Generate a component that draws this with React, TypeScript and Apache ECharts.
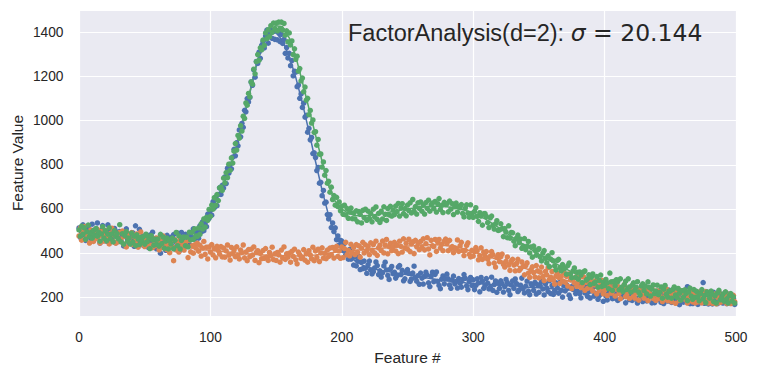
import React, { useEffect, useRef } from "react";
import * as echarts from "echarts";

// Noisy observations, feature index = position in array (0..499)
const blueY = [
  514, 471, 500, 528, 484, 458, 505, 518, 490, 466,
  531, 482, 505, 470, 537, 487, 446, 502, 525, 474,
  488, 454, 528, 472, 502, 460, 484, 512, 447, 496,
  467, 498, 455, 481, 433, 492, 510, 460, 447, 478,
  455, 492, 431, 524, 467, 443, 508, 449, 475, 435,
  478, 442, 463, 425, 482, 454, 495, 437, 466, 420,
  465, 444, 400, 477, 427, 459, 413, 481, 439, 453,
  472, 431, 484, 420, 449, 491, 439, 414, 494, 461,
  432, 485, 446, 470, 439, 489, 470, 510, 464, 494,
  497, 468, 523, 496, 542, 502, 537, 520, 577, 558,
  593, 572, 633, 606, 654, 615, 666, 696, 666, 707,
  695, 745, 715, 785, 762, 803, 782, 835, 870, 841,
  900, 886, 958, 927, 988, 970, 1047, 1040, 1100, 1085,
  1105, 1175, 1160, 1230, 1197, 1268, 1259, 1310, 1282, 1341,
  1357, 1329, 1383, 1410, 1351, 1395, 1410, 1373, 1405, 1368,
  1408, 1366, 1399, 1358, 1391, 1350, 1368, 1305, 1331, 1284,
  1305, 1249, 1272, 1203, 1224, 1220, 1154, 1161, 1101, 1121,
  1060, 1079, 1016, 1024, 948, 965, 913, 924, 851, 854,
  833, 774, 788, 717, 721, 660, 684, 627, 631, 575,
  555, 574, 516, 537, 498, 515, 461, 478, 437, 458,
  455, 412, 444, 393, 411, 373, 417, 373, 392, 346,
  383, 342, 364, 385, 326, 360, 330, 364, 332, 309,
  347, 364, 324, 306, 316, 333, 360, 344, 303, 320,
  292, 311, 342, 359, 324, 299, 281, 329, 340, 307,
  314, 287, 298, 337, 344, 303, 322, 275, 284, 313,
  326, 309, 272, 283, 310, 341, 290, 273, 298, 259,
  310, 287, 260, 295, 314, 301, 266, 249, 295, 314,
  271, 304, 315, 272, 254, 239, 282, 297, 261, 284,
  305, 284, 256, 241, 278, 296, 261, 272, 242, 285,
  264, 246, 281, 303, 286, 252, 235, 273, 290, 254,
  279, 235, 254, 284, 265, 225, 290, 272, 241, 253,
  285, 264, 238, 245, 291, 231, 258, 274, 223, 265,
  241, 275, 262, 224, 248, 281, 267, 231, 212, 256,
  274, 241, 283, 262, 226, 234, 255, 287, 240, 220,
  251, 273, 228, 212, 261, 253, 232, 268, 215, 257,
  223, 253, 272, 238, 211, 261, 242, 226, 275, 217,
  253, 213, 230, 266, 243, 219, 268, 232, 201, 253,
  229, 257, 242, 210, 195, 249, 236, 262, 217, 229,
  258, 217, 198, 238, 247, 220, 261, 204, 226, 197,
  230, 245, 205, 218, 249, 191, 208, 235, 229, 182,
  235, 206, 188, 225, 247, 208, 194, 237, 197, 216,
  186, 224, 239, 199, 206, 230, 175, 215, 224, 190,
  216, 186, 209, 231, 193, 174, 220, 238, 197, 181,
  227, 205, 184, 194, 232, 213, 175, 207, 176, 216,
  190, 228, 207, 177, 217, 172, 202, 222, 183, 233,
  203, 177, 218, 232, 184, 191, 209, 167, 224, 186,
  178, 212, 198, 248, 219, 171, 203, 172, 194, 212,
  204, 168, 220, 184, 207, 267, 173, 221, 186, 170,
  212, 194, 170, 223, 177, 197, 172, 204, 182, 214,
  174, 208, 194, 172, 215, 179, 201, 175, 196, 168,
];

const orangeY = [
  478, 514, 459, 495, 521, 465, 486, 482, 446, 505,
  492, 453, 499, 466, 508, 475, 446, 498, 482, 454,
  503, 463, 481, 442, 490, 513, 453, 482, 445, 483,
  452, 494, 464, 500, 441, 479, 428, 485, 466, 450,
  493, 440, 476, 453, 487, 427, 467, 496, 441, 457,
  430, 472, 442, 470, 436, 471, 425, 456, 434, 469,
  454, 415, 465, 428, 478, 433, 458, 416, 437, 402,
  456, 428, 366, 461, 415, 444, 405, 461, 427, 444,
  414, 449, 431, 380, 458, 406, 433, 400, 438, 423,
  445, 409, 436, 387, 423, 453, 395, 427, 374, 428,
  405, 439, 392, 421, 379, 431, 412, 396, 430, 383,
  423, 382, 410, 437, 391, 369, 426, 398, 414, 384,
  429, 390, 374, 414, 402, 437, 379, 405, 366, 416,
  384, 418, 391, 428, 367, 404, 411, 357, 399, 375,
  412, 377, 421, 383, 367, 403, 388, 427, 371, 397,
  367, 403, 392, 359, 414, 378, 428, 372, 397, 382,
  400, 359, 408, 385, 418, 370, 352, 405, 393, 376,
  382, 416, 368, 398, 359, 411, 392, 375, 427, 366,
  410, 381, 418, 362, 401, 424, 378, 399, 375, 414,
  385, 423, 393, 426, 378, 415, 431, 386, 410, 377,
  428, 380, 421, 449, 393, 413, 388, 440, 403, 426,
  393, 439, 404, 433, 382, 423, 449, 401, 438, 411,
  430, 393, 447, 413, 439, 401, 454, 390, 424, 436,
  412, 455, 401, 437, 462, 397, 430, 445, 411, 429,
  449, 410, 436, 398, 454, 431, 405, 465, 423, 445,
  418, 463, 407, 443, 451, 398, 458, 429, 447, 416,
  453, 427, 465, 415, 443, 470, 419, 392, 458, 434,
  430, 462, 408, 450, 462, 423, 440, 411, 455, 464,
  444, 411, 458, 421, 430, 402, 424, 421, 460, 408,
  433, 449, 411, 389, 413, 435, 447, 395, 383, 413,
  387, 407, 425, 411, 370, 388, 424, 372, 405, 387,
  407, 373, 353, 387, 407, 393, 355, 337, 381, 393,
  362, 384, 396, 349, 337, 363, 383, 346, 322, 364,
  372, 346, 320, 354, 372, 322, 330, 360, 340, 302,
  344, 356, 310, 290, 326, 338, 312, 292, 344, 320,
  288, 314, 337, 293, 276, 318, 302, 335, 281, 291,
  317, 278, 260, 297, 308, 290, 263, 296, 274, 311,
  268, 295, 251, 306, 279, 240, 284, 265, 292, 250,
  269, 290, 244, 255, 293, 232, 268, 241, 273, 244,
  266, 229, 256, 275, 216, 246, 231, 266, 277, 216,
  232, 257, 208, 247, 264, 219, 230, 249, 206, 237,
  250, 217, 194, 232, 241, 258, 203, 215, 234, 195,
  230, 247, 205, 196, 220, 237, 187, 230, 210, 239,
  196, 220, 237, 185, 224, 208, 241, 195, 212, 186,
  229, 195, 212, 234, 181, 199, 222, 238, 185, 213,
  201, 180, 222, 211, 173, 225, 214, 186, 230, 192,
  216, 231, 189, 174, 206, 196, 223, 179, 209, 175,
  207, 180, 224, 202, 175, 213, 191, 226, 182, 174,
  220, 188, 173, 207, 215, 170, 200, 222, 177, 195,
  181, 209, 222, 172, 190, 214, 172, 199, 209, 181,
];

const greenY = [
  505, 477, 522, 486, 515, 463, 497, 527, 476, 493,
  468, 503, 482, 512, 477, 495, 454, 487, 520, 468,
  501, 456, 486, 515, 466, 487, 451, 502, 475, 488,
  465, 529, 451, 488, 441, 479, 498, 454, 468, 441,
  491, 450, 477, 434, 483, 464, 439, 471, 455, 475,
  441, 486, 452, 472, 421, 479, 460, 436, 463, 441,
  464, 432, 485, 443, 473, 422, 454, 468, 419, 458,
  442, 468, 420, 458, 494, 434, 478, 419, 458, 471,
  473, 434, 473, 428, 495, 460, 494, 463, 510, 478,
  476, 514, 485, 533, 509, 555, 518, 562, 549, 598,
  567, 618, 599, 651, 616, 665, 638, 696, 699, 684,
  740, 718, 765, 742, 803, 775, 831, 808, 862, 896,
  867, 933, 921, 977, 953, 1020, 1010, 1080, 1070, 1123,
  1108, 1175, 1165, 1233, 1212, 1267, 1299, 1273, 1330, 1321,
  1365, 1341, 1397, 1371, 1412, 1380, 1430, 1400, 1442, 1417,
  1442, 1407, 1446, 1417, 1446, 1410, 1440, 1387, 1407, 1357,
  1397, 1343, 1361, 1299, 1325, 1278, 1292, 1224, 1236, 1180,
  1193, 1131, 1152, 1093, 1101, 1027, 1046, 989, 1003, 947,
  950, 889, 915, 848, 849, 790, 813, 753, 774, 717,
  725, 676, 699, 643, 661, 617, 653, 611, 632, 592,
  612, 576, 617, 573, 602, 558, 586, 604, 556, 582,
  555, 592, 542, 588, 576, 537, 594, 561, 599, 549,
  590, 557, 580, 542, 599, 564, 609, 553, 580, 539,
  590, 555, 610, 576, 548, 602, 573, 612, 568, 595,
  574, 613, 588, 625, 568, 605, 624, 579, 602, 569,
  618, 593, 628, 582, 643, 590, 611, 577, 628, 603,
  632, 590, 618, 577, 629, 603, 640, 590, 619, 627,
  602, 634, 586, 624, 647, 598, 616, 584, 630, 620,
  624, 587, 636, 599, 624, 575, 610, 627, 586, 611,
  606, 620, 580, 564, 604, 619, 581, 563, 619, 580,
  562, 589, 606, 567, 544, 583, 568, 527, 578, 579,
  566, 538, 516, 560, 568, 526, 509, 533, 547, 503,
  505, 533, 511, 475, 511, 495, 470, 524, 468, 494,
  492, 454, 434, 468, 482, 448, 464, 422, 432, 466,
  416, 432, 453, 401, 428, 382, 432, 413, 391, 414,
  420, 383, 365, 400, 412, 377, 356, 388, 339, 373,
  402, 365, 342, 324, 367, 372, 335, 320, 348, 329,
  332, 305, 344, 355, 306, 289, 320, 333, 290, 313,
  282, 315, 301, 267, 315, 320, 278, 284, 302, 258,
  292, 306, 263, 269, 294, 246, 277, 301, 250, 268,
  254, 281, 266, 239, 310, 270, 231, 272, 253, 280,
  271, 234, 284, 245, 226, 258, 273, 236, 284, 247,
  224, 255, 266, 233, 246, 271, 224, 211, 252, 261,
  232, 251, 216, 270, 245, 206, 237, 256, 217, 228,
  255, 212, 223, 247, 196, 237, 254, 214, 201, 228,
  229, 196, 236, 247, 211, 200, 240, 219, 187, 230,
  201, 234, 218, 185, 225, 242, 206, 191, 235, 200,
  227, 203, 184, 218, 235, 193, 208, 176, 225, 211,
  196, 228, 215, 181, 207, 174, 220, 232, 189, 197,
  214, 182, 225, 193, 174, 208, 217, 183, 202, 174,
];

// Smooth curves, read every 5 features (0..500)
const blueLine = [
  497, 495, 492, 488, 485, 481, 477, 472, 468, 464,
  460, 456, 452, 449, 447, 448, 452, 465, 485, 520,
  578, 645, 710, 785, 880, 1000, 1125, 1250, 1345, 1390,
  1398, 1362, 1290, 1195, 1080, 950, 815, 685, 570, 490,
  435, 395, 365, 348, 335, 328, 322, 317, 312, 307,
  302, 297, 292, 287, 283, 279, 275, 271, 268, 265,
  263, 261, 259, 257, 255, 253, 252, 250, 247, 245,
  243, 241, 239, 237, 235, 233, 230, 226, 222, 218,
  215, 212, 210, 208, 206, 204, 203, 201, 200, 198,
  197, 195, 194, 193, 192, 191, 190, 189, 188, 187,
  186,
];
const orangeLine = [
  490, 486, 482, 478, 475, 472, 470, 466, 463, 459,
  455, 450, 446, 441, 437, 432, 428, 424, 420, 416,
  413, 410, 407, 404, 401, 398, 396, 394, 392, 390,
  389, 388, 387, 387, 388, 390, 392, 396, 400, 404,
  408, 410, 413, 415, 418, 420, 422, 424, 427, 429,
  432, 434, 437, 438, 438, 437, 434, 430, 425, 416,
  405, 396, 387, 378, 368, 359, 350, 340, 330, 320,
  310, 301, 293, 285, 278, 271, 265, 257, 250, 244,
  238, 233, 228, 224, 220, 217, 214, 211, 209, 207,
  205, 203, 202, 200, 199, 197, 196, 194, 193, 192,
  191,
];
const greenLine = [
  495, 493, 490, 487, 483, 479, 475, 471, 467, 463,
  459, 455, 452, 450, 448, 450, 455, 468, 488, 525,
  582, 650, 715, 790, 885, 1005, 1130, 1255, 1350, 1405,
  1430, 1425, 1375, 1290, 1175, 1055, 935, 815, 705, 635,
  600, 580, 570, 568, 570, 574, 578, 584, 590, 595,
  600, 604, 608, 610, 612, 612, 610, 606, 600, 592,
  582, 568, 552, 533, 513, 493, 472, 452, 432, 414,
  396, 379, 362, 346, 330, 315, 300, 290, 280, 272,
  264, 259, 255, 251, 248, 243, 238, 233, 229, 225,
  221, 218, 215, 212, 209, 206, 204, 202, 200, 198,
  196,
];

const xTicks = ["0", "100", "200", "300", "400", "500"];
const yTicks = ["200", "400", "600", "800", "1000", "1200", "1400"];

const BLUE = "#4C72B0";
const ORANGE = "#DD8452";
const GREEN = "#55A868";
const TEXT = "#262626";

export default function App() {
  const ref = useRef<HTMLDivElement>(null);

  useEffect(() => {
    if (!ref.current) return;
    const chart = echarts.init(ref.current, null, { renderer: "svg" });
    const pts = (arr: number[]) => arr.map((v, i) => [i, v]);
    const linePts = (arr: number[]) => arr.map((v, i) => [i * 5, v]);
    const lineSeries = (arr: number[], color: string) => ({
      type: "line",
      data: linePts(arr),
      showSymbol: false,
      symbol: "none",
      silent: true,
      lineStyle: { color, width: 1.5 },
      z: 2,
    });
    const scatterSeries = (arr: number[], color: string) => ({
      type: "scatter",
      data: pts(arr),
      symbol: "circle",
      symbolSize: 5.5,
      silent: true,
      itemStyle: { color, opacity: 1 },
      z: 3,
    });

    chart.setOption({
      animation: false,
      backgroundColor: "#ffffff",
      title: {
        text: "{a|FactorAnalysis(d=2): }{s|σ}{b| = 20.144}",
        left: 348,
        top: 21,
        padding: 0,
        textStyle: {
          fontWeight: "normal",
          rich: {
            a: { fontFamily: "Liberation Sans", fontSize: 23.5, fontWeight: "normal", color: TEXT },
            s: { fontFamily: "DejaVu Sans", fontStyle: "italic", fontWeight: "normal", fontSize: 23.5, color: TEXT },
            b: { fontFamily: "DejaVu Sans", fontSize: 23.5, fontWeight: "normal", color: TEXT },
          },
        },
      },
      grid: {
        left: 79,
        right: 22,
        top: 10,
        bottom: 59,
        show: true,
        backgroundColor: "#EAEAF2",
        borderWidth: 0,
        containLabel: false,
      },
      xAxis: {
        type: "value",
        min: 0,
        max: 500,
        interval: 100,
        axisLine: { show: false },
        axisTick: { show: false },
        splitLine: { show: true, lineStyle: { color: "#ffffff", width: 1.2 } },
        axisLabel: {
          color: TEXT,
          fontSize: 13.75,
          fontFamily: "Liberation Sans",
          margin: 14,
          formatter: (v: number) => (xTicks.includes(String(v)) ? String(v) : ""),
        },
      },
      yAxis: {
        type: "value",
        min: 115.5,
        max: 1501,
        splitNumber: 7,
        axisLine: { show: false },
        axisTick: { show: false },
        splitLine: { show: true, lineStyle: { color: "#ffffff", width: 1.2 } },
        axisLabel: {
          color: TEXT,
          fontSize: 13.75,
          fontFamily: "Liberation Sans",
          margin: 15.5,
          formatter: (v: number) => (yTicks.includes(String(v)) ? String(v) : ""),
        },
      },
      graphic: [
        {
          type: "text",
          x: 17,
          y: 163,
          rotation: Math.PI / 2,
          silent: true,
          style: {
            text: "Feature Value",
            fill: TEXT,
            font: '15.5px "Liberation Sans"',
            align: "center",
            verticalAlign: "middle",
          },
        },
        {
          type: "text",
          x: 407.5,
          y: 357,
          silent: true,
          style: {
            text: "Feature #",
            fill: TEXT,
            font: '15.5px "Liberation Sans"',
            align: "center",
            verticalAlign: "middle",
          },
        },
      ],
      series: [
        lineSeries(blueLine, BLUE),
        lineSeries(orangeLine, ORANGE),
        lineSeries(greenLine, GREEN),
        scatterSeries(blueY, BLUE),
        scatterSeries(orangeY, ORANGE),
        scatterSeries(greenY, GREEN),
      ],
    });

    return () => chart.dispose();
  }, []);

  return (
    <div
      ref={ref}
      style={{ position: "absolute", left: 0, top: 0, width: 758, height: 375 }}
    />
  );
}
